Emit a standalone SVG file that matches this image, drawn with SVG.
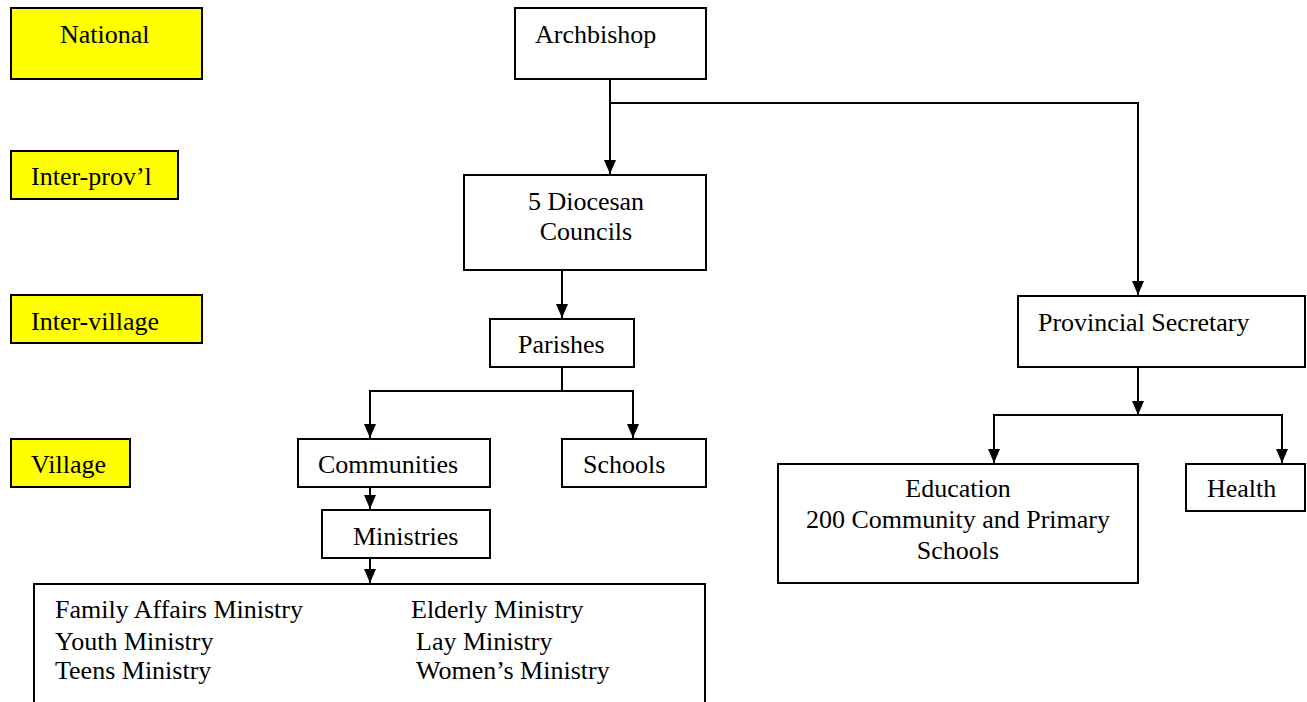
<svg xmlns="http://www.w3.org/2000/svg" width="1307" height="702" viewBox="0 0 1307 702">
<style>
  .box{fill:#ffffff;stroke:#000;stroke-width:2}
  .lvl{fill:#ffff00;stroke:#000;stroke-width:2}
  .t{font-family:"Liberation Serif","Times New Roman",serif;font-size:26px;fill:#000}
  .c{text-anchor:middle}
  .ln{fill:none;stroke:#000;stroke-width:2}
</style>
<defs>
  <marker id="ah" markerUnits="userSpaceOnUse" markerWidth="14" markerHeight="12" refX="14" refY="6" orient="auto" viewBox="0 0 14 12">
    <path d="M0,0 L14,6 L0,12 z" fill="#000"/>
  </marker>
</defs>
<rect width="1307" height="702" fill="#fff"/>

<g id="level-national"><rect class="lvl" x="11" y="8" width="191" height="71"/><text class="t" x="60" y="43">National</text></g>
<g id="level-interprov"><rect class="lvl" x="11" y="151" width="167" height="48"/><text class="t" x="31" y="185">Inter-prov’l</text></g>
<g id="level-intervillage"><rect class="lvl" x="11" y="295" width="191" height="48"/><text class="t" x="31" y="330">Inter-village</text></g>
<g id="level-village"><rect class="lvl" x="11" y="439" width="119" height="48"/><text class="t" x="31" y="473">Village</text></g>

<g id="connectors">
  <path class="ln" d="M610,79 V174" marker-end="url(#ah)"/>
  <path class="ln" d="M610,103 H1138 V295" marker-end="url(#ah)"/>
  <path class="ln" d="M562,270 V318" marker-end="url(#ah)"/>
  <path class="ln" d="M562,367 V391"/>
  <path class="ln" d="M562,391 H370 V438" marker-end="url(#ah)"/>
  <path class="ln" d="M562,391 H633 V438" marker-end="url(#ah)"/>
  <path class="ln" d="M370,487 V509" marker-end="url(#ah)"/>
  <path class="ln" d="M370,558 V583" marker-end="url(#ah)"/>
  <path class="ln" d="M1138,367 V415" marker-end="url(#ah)"/>
  <path class="ln" d="M1138,415 H994 V463" marker-end="url(#ah)"/>
  <path class="ln" d="M1138,415 H1282 V463" marker-end="url(#ah)"/>
</g>

<g id="archbishop"><rect class="box" x="515" y="8" width="191" height="71"/><text class="t" x="535" y="43">Archbishop</text></g>
<g id="diocesan"><rect class="box" x="464" y="175" width="242" height="95"/><text class="t c" x="586" y="210">5 Diocesan</text><text class="t c" x="586" y="240">Councils</text></g>
<g id="parishes"><rect class="box" x="490" y="319" width="144" height="48"/><text class="t" x="518" y="353">Parishes</text></g>
<g id="communities"><rect class="box" x="298" y="439" width="192" height="48"/><text class="t" x="318" y="473">Communities</text></g>
<g id="schools"><rect class="box" x="562" y="439" width="144" height="48"/><text class="t" x="583" y="473">Schools</text></g>
<g id="ministries"><rect class="box" x="322" y="510" width="168" height="48"/><text class="t" x="353" y="545">Ministries</text></g>
<g id="ministry-list">
  <rect class="box" x="34" y="584" width="671" height="125"/>
  <text class="t" x="55" y="618">Family Affairs Ministry</text>
  <text class="t" x="55" y="650">Youth Ministry</text>
  <text class="t" x="55" y="679">Teens Ministry</text>
  <text class="t" x="411" y="618">Elderly Ministry</text>
  <text class="t" x="416" y="650">Lay Ministry</text>
  <text class="t" x="416" y="679">Women’s Ministry</text>
</g>
<g id="provincial-secretary"><rect class="box" x="1018" y="296" width="287" height="71"/><text class="t" x="1038" y="331">Provincial Secretary</text></g>
<g id="education"><rect class="box" x="778" y="464" width="360" height="119"/><text class="t c" x="958" y="497">Education</text><text class="t c" x="958" y="528">200 Community and Primary</text><text class="t c" x="958" y="559">Schools</text></g>
<g id="health"><rect class="box" x="1186" y="464" width="119" height="47"/><text class="t" x="1207" y="497">Health</text></g>
</svg>
